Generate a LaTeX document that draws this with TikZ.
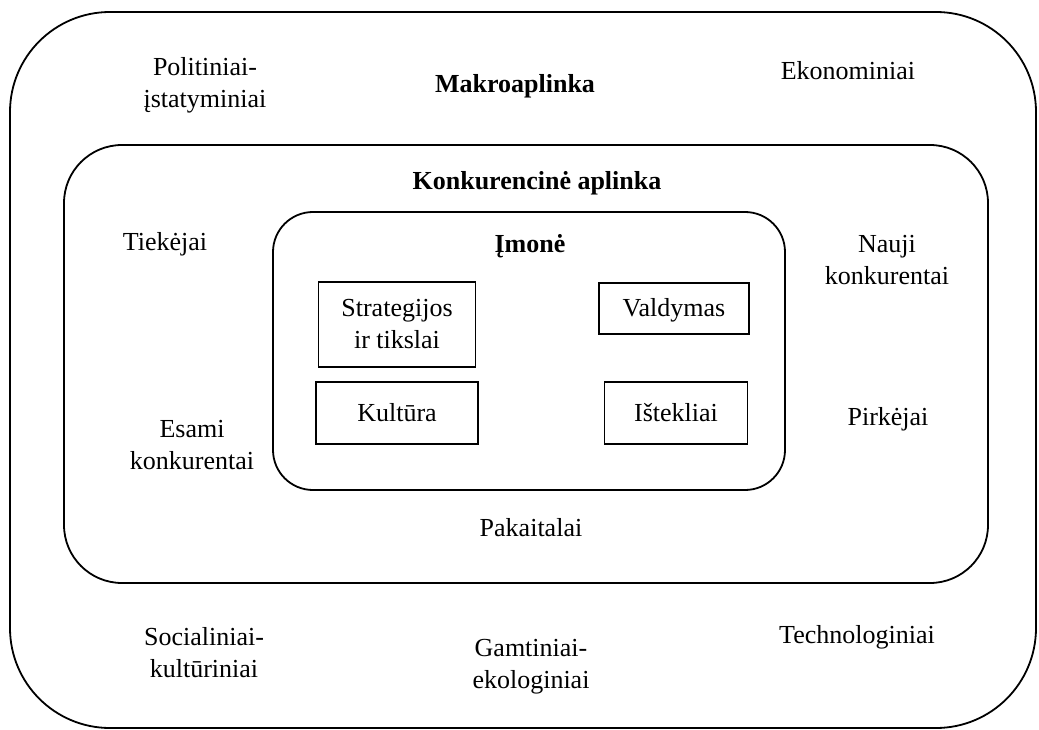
\documentclass[tikz,border=0pt]{standalone}
\usepackage{fontspec}
\setmainfont{Liberation Serif}
\begin{document}
\begin{tikzpicture}[x=1pt,y=-1pt,
  frame/.style={draw, line width=1.8pt, rounded corners=#1, inner sep=0pt},
  part/.style={draw, line width=1.6pt, inner sep=0pt, align=center, font=\lbl},
  lbl/.style={align=center, inner sep=0pt, font=\lbl},
  head/.style={align=center, inner sep=0pt, font=\lbl\bfseries}]
\newcommand{\lbl}{\fontsize{26}{32}\selectfont}
\useasboundingbox (0,0) rectangle (1039,730);
% nested environment frames
\node[frame=100pt, minimum width=1026pt, minimum height=716pt] (macro) at (523,370) {};
\node[frame=58pt, minimum width=924pt, minimum height=438pt] (comp) at (526,364) {};
\node[frame=40pt, minimum width=512pt, minimum height=278pt] (firm) at (529,351) {};
% company elements
\node[part, minimum width=157pt, minimum height=85pt] (strat) at (397,324.5) {Strategijos\\ir tikslai};
\node[part, minimum width=150pt, minimum height=51pt, text height=18pt, text depth=2pt] (mgmt) at (674,308.5) {Valdymas};
\node[part, minimum width=162pt, minimum height=62pt] (cult) at (397,413) {Kultūra};
\node[part, minimum width=143pt, minimum height=62pt] (res) at (676,413) {Ištekliai};
% headings
\node[head] (hmacro) at (515,86) {Makroaplinka};
\node[head] (hcomp) at (537,183) {Konkurencinė aplinka};
\node[head] (hfirm) at (530,246) {Įmonė};
% macro-environment factors
\node[lbl] (pol) at (205,85) {Politiniai-\\įstatyminiai};
\node[lbl] (eco) at (848,71) {Ekonominiai};
\node[lbl] (soc) at (204,653) {Socialiniai-\\kultūriniai};
\node[lbl] (env) at (531,667) {Gamtiniai-\\ekologiniai};
\node[lbl] (tech) at (857,637) {Technologiniai};
% competitive environment forces
\node[lbl] (supp) at (165,244) {Tiekėjai};
\node[lbl] (newc) at (887,260) {Nauji\\konkurentai};
\node[lbl] (exist) at (192,445) {Esami\\konkurentai};
\node[lbl] (buy) at (888,419) {Pirkėjai};
\node[lbl] (subst) at (531,528) {Pakaitalai};
\end{tikzpicture}
\end{document}
